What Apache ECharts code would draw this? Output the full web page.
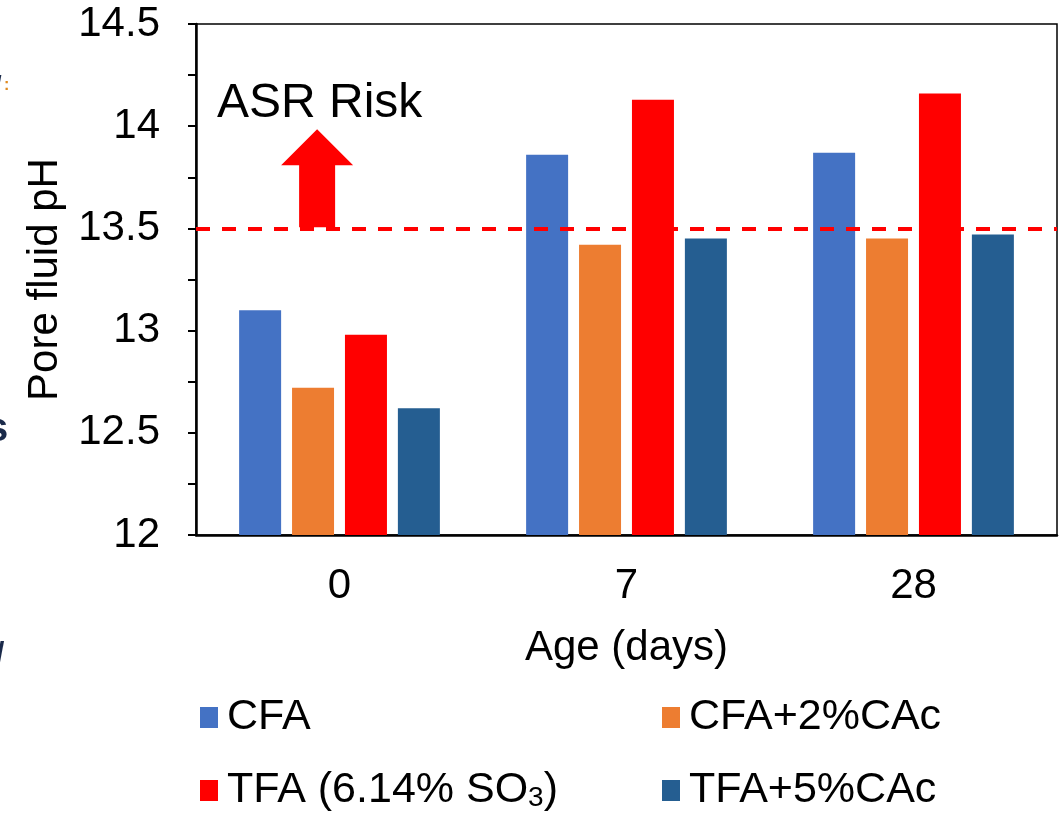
<!DOCTYPE html>
<html>
<head>
<meta charset="utf-8">
<script src="https://cdn.jsdelivr.net/npm/echarts@6/dist/echarts.min.js"></script>
<style>
html,body{margin:0;padding:0;background:#fff;}
#chart{width:1059px;height:813px;}
</style>
</head>
<body>
<div id="chart"></div>
<script>
const categories = ['0', '7', '28'];
const seriesNames = ['CFA', 'CFA+2%CAc', 'TFA (6.14% SO3)', 'TFA+5%CAc'];
const cfa = [13.10, 13.86, 13.87];
const cfa2cac = [12.72, 13.42, 13.45];
const tfa = [12.98, 14.13, 14.16];
const tfa5cac = [12.62, 13.45, 13.47];
const yTicks = [12, 12.5, 13, 13.5, 14, 14.5];
const riskThreshold = 13.5;
const arrowFrom = 13.5;
const arrowTo = 13.99;

const FONT = 'Liberation Sans, Arial, sans-serif';
const colors = ['#4472C4', '#ED7D31', '#FF0000', '#255E91'];
const values = [cfa, cfa2cac, tfa, tfa5cac];

const chart = echarts.init(document.getElementById('chart'));

const series = seriesNames.map((n, i) => ({
  name: n,
  type: 'bar',
  data: values[i],
  barWidth: 42,
  barGap: '26%',
  itemStyle: { color: colors[i] },
  emphasis: { disabled: true }
}));
series[0].markLine = {
  silent: true,
  symbol: 'none',
  label: { show: false },
  lineStyle: { color: '#FF0000', type: [14, 12], width: 4 },
  data: [{ yAxis: riskThreshold }]
};
series[0].markPoint = {
  silent: true,
  data: [{
    coord: ['0', (arrowFrom + arrowTo) / 2],
    symbol: 'path://M36,0 L72,36 L54,36 L54,98 L18,98 L18,36 L0,36 Z',
    symbolSize: [72, 98],
    symbolOffset: [57, 0],
    itemStyle: { color: '#FF0000' },
    label: { show: false }
  }]
};

function legendFor(name, left, top) {
  return {
    data: [name],
    left: left, top: top,
    padding: 0,
    itemWidth: 18, itemHeight: 21,
    icon: 'rect',
    selectedMode: false,
    textStyle: {
      fontFamily: FONT, fontSize: 43, color: '#000', padding: [0, 0, 0, 4],
      rich: { sub: { fontFamily: FONT, fontSize: 28, color: '#000', verticalAlign: 'bottom', padding: [16, 0, 0, 0] } }
    },
    formatter: n => n === 'TFA (6.14% SO3)' ? 'TFA (6.14% SO{sub|3})' : n
  };
}

chart.setOption({
  animation: false,
  backgroundColor: '#fff',
  grid: { left: 196, top: 24, right: 2, bottom: 278, show: true, borderColor: '#000', borderWidth: 1.5, backgroundColor: 'transparent' },
  legend: [
    legendFor(seriesNames[0], 200, 696),
    legendFor(seriesNames[1], 662, 696),
    legendFor(seriesNames[2], 200, 769),
    legendFor(seriesNames[3], 662, 769)
  ],
  xAxis: {
    type: 'category',
    data: categories,
    axisLine: { lineStyle: { color: '#000', width: 2.5 } },
    axisTick: { show: false },
    axisLabel: { fontFamily: FONT, fontSize: 42, color: '#000', margin: 30 },
    name: 'Age (days)',
    nameLocation: 'middle',
    nameGap: 92,
    nameTextStyle: { fontFamily: FONT, fontSize: 42, color: '#000' }
  },
  yAxis: {
    type: 'value',
    min: 12, max: 14.5, interval: 0.25,
    axisLine: { show: true, lineStyle: { color: '#000', width: 2.5 } },
    axisTick: { show: true, length: 8, lineStyle: { color: '#000', width: 2 } },
    splitLine: { show: false },
    axisLabel: {
      fontFamily: FONT, fontSize: 42, color: '#000', margin: 36,
      formatter: v => yTicks.some(t => Math.abs(t - v) < 1e-9) ? String(v) : ''
    },
    name: 'Pore fluid pH',
    nameLocation: 'middle',
    nameGap: 130,
    nameTextStyle: { fontFamily: FONT, fontSize: 42, color: '#000' }
  },
  graphic: [
    { type: 'text', left: 217, top: 80, style: { text: 'ASR Risk', font: '48px ' + FONT, fill: '#000' } },
    { type: 'text', left: -14, top: 410, style: { text: 's', font: 'bold 40px ' + FONT, fill: '#1a2a4a' } },
    { type: 'text', x: -4, y: 640, style: { text: '/', font: 'bold 30px ' + FONT, fill: '#1a2a4a' } },
    { type: 'text', x: -4, y: 74, style: { text: '/', font: 'bold 20px ' + FONT, fill: '#1a2a4a' } },
    { type: 'text', x: 4, y: 78, style: { text: ':', font: 'bold 16px ' + FONT, fill: '#E08A20' } }
  ],
  series: series
});
</script>
</body>
</html>
